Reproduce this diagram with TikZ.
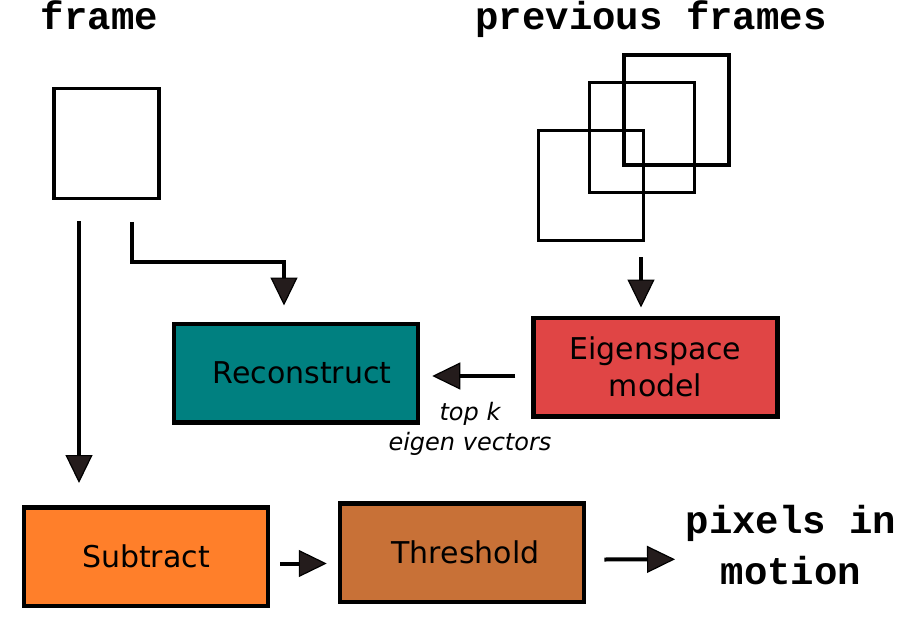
\documentclass[tikz,border=0pt]{standalone}
\usepackage{fontspec}
\setmainfont{DejaVu Sans}
\newfontfamily\cour{Liberation Mono}
\usetikzlibrary{arrows.meta}
\definecolor{tealbox}{HTML}{008080}
\definecolor{redbox}{HTML}{E04545}
\definecolor{orangebox}{HTML}{FF7F2A}
\definecolor{brownbox}{HTML}{C87137}
\definecolor{tipfill}{HTML}{241C1C}
\begin{document}
\begin{tikzpicture}[x=1pt,y=-1pt,
  box/.style={draw=black, line width=4.5pt, minimum width=244pt, minimum height=98.5pt,
    inner sep=0pt, font=\fontsize{30}{37}\selectfont, align=center},
  frm/.style={draw=black, line width=3.8pt, inner sep=0pt, minimum width=105pt, minimum height=110pt},
  lab/.style={font=\cour\bfseries\fontsize{39}{51}\selectfont, inner sep=0pt, align=center},
  note/.style={font=\itshape\fontsize{24}{30}\selectfont, inner sep=0pt, align=center},
  arr/.style={line width=4pt, -{Triangle[width=27pt,length=28pt,fill=tipfill,line width=1.2pt]}}
]
\useasboundingbox (0,0) rectangle (902,623);

% labels
\node[lab, anchor=base] (lframe) at (99.5,29.5) {frame};
\node[lab, anchor=base] (lprev) at (651,30) {previous frames};

% frames
\node[frm] (frame) at (106.75,143.5) {};
\node[frm] (pa) at (591,185.5) {};
\node[frm] (pb) at (642,137.5) {};
\node[frm] (pc) at (676.5,110) {};

% boxes
\node[box, fill=tealbox] (rec) at (296,373) {\hspace*{12pt}Reconstruct};
\node[box, fill=redbox] (eig) at (655.5,367) {Eigenspace\\model};
\node[box, fill=orangebox] (sub) at (146,556.5) {Subtract};
\node[box, fill=brownbox] (thr) at (462,552.5) {\hspace*{7pt}Threshold};

% texts
\node[note] (topk) at (470,428.7) {top k\\eigen vectors};
\node[lab] (out) at (791,545) {pixels in\\motion};
\coordinate (outtip) at (675,559.3);

% connectors
\draw[arr] ([shift={(-27.75,21)}]frame.south) -- ([shift={(-67,-22)}]sub.north);
\draw[arr] ([shift={(24.75,21.5)}]frame.south) |- ([shift={(-12,-60)}]rec.north)
  -- ([shift={(-12,-16)}]rec.north);
\draw[arr] ([shift={(50,15)}]pa.south) -- ([shift={(-14.5,-8)}]eig.north);
\draw[arr] ([shift={(-16,9)}]eig.west) -- ([shift={(12,3)}]rec.east);
\draw[arr] ([shift={(10,7)}]sub.east) -- ([shift={(-11,11)}]thr.west);
\draw[arr] ([shift={(18,7)}]thr.east) -- (outtip);
\end{tikzpicture}
\end{document}
